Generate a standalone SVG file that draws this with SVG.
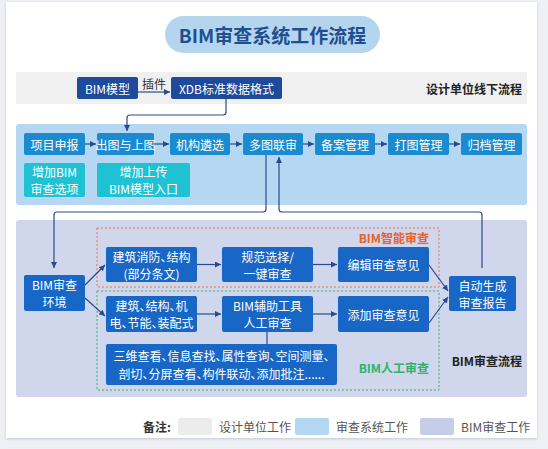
<svg xmlns="http://www.w3.org/2000/svg" width="548" height="449" viewBox="0 0 548 449">
<defs>
<style>
text{font-family:"Noto Sans CJK SC","Noto Sans",sans-serif;dominant-baseline:central}
.wt{fill:#fff;font-size:12px;text-anchor:middle}
.p{font-feature-settings:"palt"}
.navy{fill:#1f4a9b}
.row{fill:#1a8bd1}
.teal{fill:#1fc2d3}
.low{fill:#1867c6}
.conn{fill:none;stroke:#2b4a8c;stroke-width:1.2}
.lbl{font-size:12px;font-weight:bold}
.leg{font-size:12px;fill:#555}
</style>
<marker id="ah" markerUnits="userSpaceOnUse" markerWidth="7" markerHeight="7" refX="6" refY="3" orient="auto">
<path d="M0,0 L6,3 L0,6 z" fill="#2b4a8c"/>
</marker>
<filter id="sh" x="-5%" y="-5%" width="110%" height="110%">
<feDropShadow dx="0" dy="1" stdDeviation="1.5" flood-color="#9aa3b5" flood-opacity="0.5"/>
</filter>
</defs>
<rect x="0" y="0" width="548" height="449" fill="#eef0f5"/>
<rect x="6" y="2" width="531" height="436" fill="#fff" filter="url(#sh)"/>

<g id="title">
<rect x="165" y="16" width="215" height="37" rx="18.5" fill="#b5d5ef"/>
<text x="272.5" y="34.5" font-size="19" font-weight="bold" fill="#1d4f91" text-anchor="middle">BIM审查系统工作流程</text>
</g>

<g id="bands">
<rect x="16" y="72" width="511" height="32" fill="#f0f0f0"/>
<rect x="16" y="124" width="511" height="81" rx="3" fill="#b6d7f1"/>
<rect x="16" y="220" width="511" height="177" rx="3" fill="#d0d6eb"/>
<text x="522" y="88" class="lbl" fill="#222" text-anchor="end">设计单位线下流程</text>
<text x="522" y="360" class="lbl" fill="#222" text-anchor="end">BIM审查流程</text>
</g>

<g id="groups">
<rect x="97" y="228" width="342" height="59" fill="none" stroke="#e8724a" stroke-width="1" stroke-dasharray="2,2"/>
<rect x="97" y="291" width="342" height="99" fill="none" stroke="#3db06a" stroke-width="1" stroke-dasharray="2,2"/>
<text x="429" y="237" class="lbl" fill="#e8622a" text-anchor="end">BIM智能审查</text>
<text x="429" y="367" class="lbl" fill="#2db36a" text-anchor="end">BIM人工审查</text>
</g>

<g id="n-bim"><rect x="77" y="77" width="61" height="22" rx="2" class="navy"/><text x="107.5" y="88" class="wt">BIM模型</text></g>
<g id="n-xdb"><rect x="171" y="77" width="111" height="22" rx="2" class="navy"/><text x="226.5" y="88" class="wt">XDB标准数据格式</text></g>

<g id="n-r1"><rect x="24" y="133" width="61" height="22" rx="2" class="row"/><text x="54.5" y="144" class="wt">项目申报</text></g>
<g id="n-r2"><rect x="97" y="133" width="57" height="22" rx="2" class="row"/><text x="125.5" y="144" class="wt">出图与上图</text></g>
<g id="n-r3"><rect x="170" y="133" width="60" height="22" rx="2" class="row"/><text x="200" y="144" class="wt">机构遴选</text></g>
<g id="n-r4"><rect x="243" y="133" width="60" height="22" rx="2" class="row"/><text x="273" y="144" class="wt">多图联审</text></g>
<g id="n-r5"><rect x="315" y="133" width="60" height="22" rx="2" class="row"/><text x="345" y="144" class="wt">备案管理</text></g>
<g id="n-r6"><rect x="388" y="133" width="61" height="22" rx="2" class="row"/><text x="418.5" y="144" class="wt">打图管理</text></g>
<g id="n-r7"><rect x="461" y="133" width="61" height="22" rx="2" class="row"/><text x="491.5" y="144" class="wt">归档管理</text></g>

<g id="n-t1"><rect x="24" y="163" width="61" height="34" rx="2" class="teal"/><text x="54.5" y="171.5" class="wt">增加BIM</text><text x="54.5" y="188.5" class="wt">审查选项</text></g>
<g id="n-t2"><rect x="97" y="163" width="93" height="34" rx="2" class="teal"/><text x="143.5" y="171.5" class="wt">增加上传</text><text x="143.5" y="188.5" class="wt">BIM模型入口</text></g>

<g id="n-env"><rect x="24" y="275" width="61" height="36" rx="2" class="low"/><text x="54.5" y="284.5" class="wt">BIM审查</text><text x="54.5" y="301.5" class="wt">环境</text></g>
<g id="n-a1"><rect x="106" y="247" width="91" height="35" rx="2" class="low"/><text x="151.5" y="256" class="wt p">建筑消防、结构</text><text x="151.5" y="273" class="wt p">(部分条文)</text></g>
<g id="n-a2"><rect x="222" y="247" width="91" height="35" rx="2" class="low"/><text x="267.5" y="256" class="wt">规范选择/</text><text x="267.5" y="273" class="wt">一键审查</text></g>
<g id="n-a3"><rect x="338" y="247" width="91" height="35" rx="2" class="low"/><text x="383.5" y="264.5" class="wt">编辑审查意见</text></g>
<g id="n-b1"><rect x="106" y="296" width="91" height="36" rx="2" class="low"/><text x="151.5" y="305.5" class="wt p">建筑、结构、机</text><text x="151.5" y="322.5" class="wt p">电、节能、装配式</text></g>
<g id="n-b2"><rect x="222" y="296" width="91" height="36" rx="2" class="low"/><text x="267.5" y="305.5" class="wt">BIM辅助工具</text><text x="267.5" y="322.5" class="wt">人工审查</text></g>
<g id="n-b3"><rect x="338" y="296" width="91" height="36" rx="2" class="low"/><text x="383.5" y="314" class="wt">添加审查意见</text></g>
<g id="n-tools"><rect x="106" y="344" width="231" height="41" rx="2" class="low"/><text x="221.5" y="355.5" class="wt p" font-size="11.5">三维查看、信息查找、属性查询、空间测量、</text><text x="221.5" y="373" class="wt p" font-size="11.5">剖切、分屏查看、构件联动、添加批注......</text></g>
<g id="n-report"><rect x="449" y="276" width="67" height="35" rx="2" class="low"/><text x="482.5" y="285" class="wt">自动生成</text><text x="482.5" y="302" class="wt">审查报告</text></g>

<g id="connectors">
<line x1="138" y1="92" x2="170" y2="92" class="conn" marker-end="url(#ah)"/>
<text x="154" y="83" font-size="12" fill="#333" text-anchor="middle">插件</text>
<path d="M226,99 V112 Q226,115 223,115 H130 Q127,115 127,118 V131" class="conn" marker-end="url(#ah)"/>
<line x1="85" y1="144" x2="96" y2="144" class="conn" marker-end="url(#ah)"/>
<line x1="154" y1="144" x2="169" y2="144" class="conn" marker-end="url(#ah)"/>
<line x1="230" y1="144" x2="242" y2="144" class="conn" marker-end="url(#ah)"/>
<line x1="303" y1="144" x2="314" y2="144" class="conn" marker-end="url(#ah)"/>
<line x1="375" y1="144" x2="387" y2="144" class="conn" marker-end="url(#ah)"/>
<line x1="449" y1="144" x2="460" y2="144" class="conn" marker-end="url(#ah)"/>
<path d="M266,155 V209 Q266,212 263,212 H57 Q54,212 54,215 V268" class="conn" marker-end="url(#ah)"/>
<path d="M482,268 V215 Q482,212 479,212 H282 Q279,212 279,209 V157" class="conn" marker-end="url(#ah)"/>
<line x1="85" y1="285" x2="105" y2="265" class="conn" marker-end="url(#ah)"/>
<line x1="85" y1="298" x2="105" y2="316" class="conn" marker-end="url(#ah)"/>
<line x1="197" y1="264.5" x2="221" y2="264.5" class="conn" marker-end="url(#ah)"/>
<line x1="313" y1="264.5" x2="337" y2="264.5" class="conn" marker-end="url(#ah)"/>
<line x1="197" y1="314" x2="221" y2="314" class="conn" marker-end="url(#ah)"/>
<line x1="313" y1="314" x2="337" y2="314" class="conn" marker-end="url(#ah)"/>
<line x1="267" y1="332" x2="267" y2="344" class="conn"/>
<line x1="429" y1="265" x2="448" y2="291" class="conn" marker-end="url(#ah)"/>
<line x1="429" y1="323" x2="448" y2="297" class="conn" marker-end="url(#ah)"/>
</g>

<g id="legend">
<text x="171" y="426" font-size="12" font-weight="bold" fill="#333" text-anchor="end">备注:</text>
<rect x="178" y="418" width="34" height="17" rx="2" fill="#ececec"/>
<text x="219" y="426" class="leg">设计单位工作</text>
<rect x="295" y="418" width="34" height="17" rx="2" fill="#b3d7f2"/>
<text x="336" y="426" class="leg">审查系统工作</text>
<rect x="420" y="418" width="34" height="17" rx="2" fill="#c5cde8"/>
<text x="461" y="426" class="leg">BIM审查工作</text>
</g>
</svg>
